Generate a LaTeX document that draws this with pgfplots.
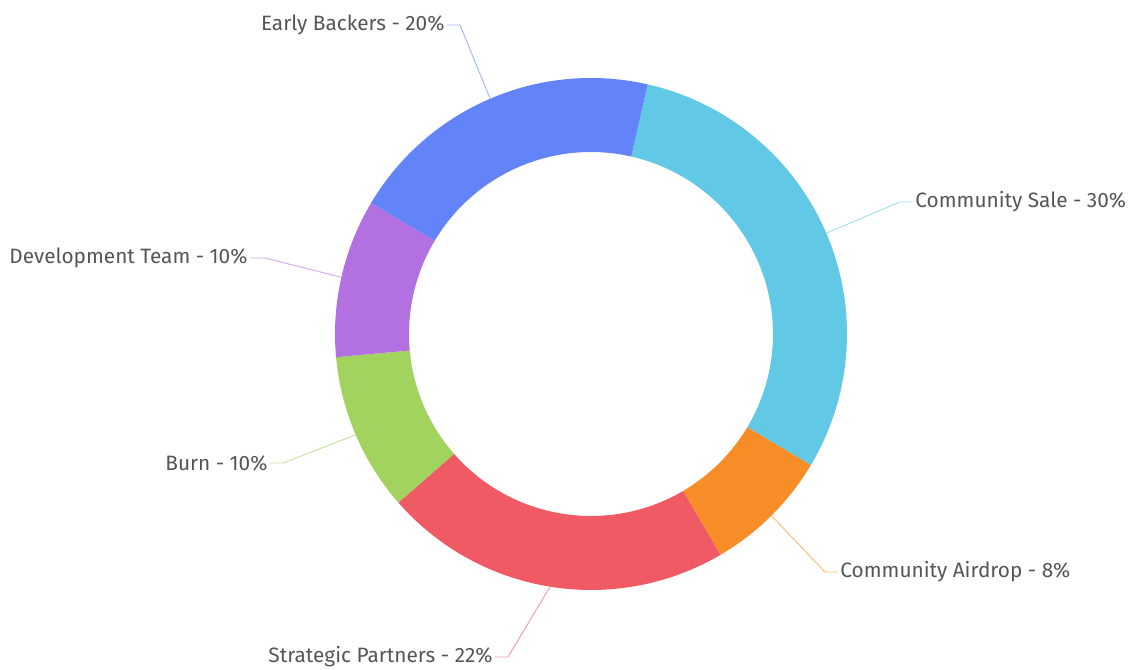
\documentclass[border=0pt]{standalone}
\usepackage{pgfplots}
\usepackage{pgfplotstable}
\pgfplotsset{compat=1.18}
\usepackage{fontspec}
\setmainfont{Fira Sans}
\definecolor{cCS}{HTML}{61C9E5}
\definecolor{cAD}{HTML}{F78D26}
\definecolor{cSP}{HTML}{EF5A64}
\definecolor{cBU}{HTML}{A2D35F}
\definecolor{cDT}{HTML}{B270E0}
\definecolor{cEB}{HTML}{6383F9}
\definecolor{txt}{HTML}{555555}
% order clockwise, starting at the top-right boundary
\pgfplotstableread[col sep=comma]{
name,value,col,ex,ey,tx,side
Community Sale,30,cCS,900,464,913,west
Community Airdrop,8,cAD,825,94,838,west
Strategic Partners,22,cSP,508,9,495,east
Burn,10,cBU,283,203,270,east
Development Team,10,cDT,265,408,250,east
Early Backers,20,cEB,460,641,447,east
}\data
\begin{document}
\begin{tikzpicture}
\begin{axis}[hide axis, scale only axis, width=849.75pt, height=499.5pt,
  xmin=0, xmax=1133, ymin=0, ymax=666, clip=false]
\addplot[draw=none] coordinates {(0,0) (1133,666)};
\pgfplotsextra{
  \gdef\cur{77.2}
  \foreach \i in {0,...,5}{
    \pgfplotstablegetelem{\i}{value}\of\data \let\vv\pgfplotsretval
    \pgfplotstablegetelem{\i}{col}\of\data \let\cc\pgfplotsretval
    \pgfplotstablegetelem{\i}{name}\of\data \let\nn\pgfplotsretval
    \pgfplotstablegetelem{\i}{ex}\of\data \let\ex\pgfplotsretval
    \pgfplotstablegetelem{\i}{ey}\of\data \let\ey\pgfplotsretval
    \pgfplotstablegetelem{\i}{tx}\of\data \let\tx\pgfplotsretval
    \pgfplotstablegetelem{\i}{side}\of\data \let\sd\pgfplotsretval
    \pgfmathsetmacro\sa{\cur}
    \pgfmathsetmacro\ea{\cur-3.6*\vv}
    \pgfmathsetmacro\ma{(\sa+\ea)/2}
    \fill[\cc] (axis cs:591,332) ++(\sa:192pt) arc[start angle=\sa, end angle=\ea, radius=192pt]
       -- ++(\ea+180:55.5pt) arc[start angle=\ea, end angle=\sa, radius=136.5pt] -- cycle;
    \draw[\cc!60, line width=0.7pt] (axis cs:591,332) ++(\ma:192pt) -- (axis cs:\ex,\ey) -- (axis cs:\tx,\ey)
       node[anchor=\sd, inner sep=1.5pt, text=txt, font=\fontsize{15.6}{18}\selectfont] {\nn\ - \vv\%};
    \xdef\cur{\ea}
  }
}
\end{axis}
\end{tikzpicture}
\end{document}
